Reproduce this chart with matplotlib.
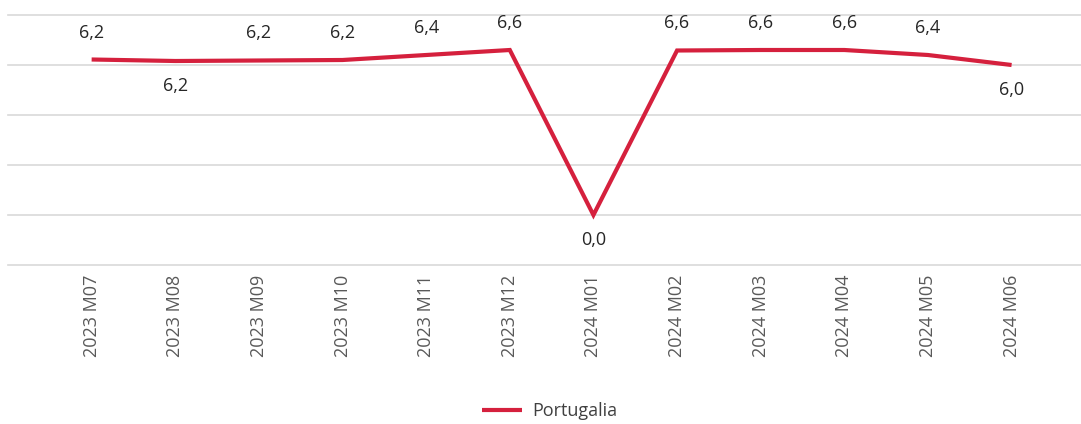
import matplotlib.pyplot as plt

plt.switch_backend('AGG')
plt.rcParams['font.family'] = ['Open Sans', 'DejaVu Sans']

# dane
months = ['2023 M07', '2023 M08', '2023 M09', '2023 M10', '2023 M11', '2023 M12',
          '2024 M01', '2024 M02', '2024 M03', '2024 M04', '2024 M05', '2024 M06']
values = [6.22, 6.16, 6.18, 6.2, 6.4, 6.6, 0.0, 6.58, 6.6, 6.6, 6.4, 6.0]
label_below = [False, True, False, False, False, False, True, False, False, False, False, True]
series_name = 'Portugalia'

LINE_COLOR = '#d5203d'
GRID_COLOR = '#d9d9d9'
FS = 13

fig = plt.figure(figsize=(10.81, 4.24), dpi=100)
ax = fig.add_axes([8 / 1081, 1 - 265 / 424, 1 - 8 / 1081, 250 / 424])

x = list(range(len(months)))
ax.plot(x, values, color=LINE_COLOR, linewidth=3, solid_capstyle='butt',
        solid_joinstyle='miter', label=series_name, zorder=3)

ax.set_ylim(-2, 8)
ax.set_xlim(-1.0, 11.83)
ax.set_yticks([-2, 0, 2, 4, 6, 8])
ax.yaxis.grid(True, color=GRID_COLOR, linewidth=1.2)
for gl in ax.get_ygridlines():
    gl.set_clip_on(False)
ax.set_axisbelow(True)
ax.tick_params(axis='y', left=False, labelleft=False)
ax.tick_params(axis='x', length=0, pad=7, labelsize=FS, labelcolor='#595959')
ax.set_xticks(x)
ax.set_xticklabels(months, rotation=90)
for s in ax.spines.values():
    s.set_visible(False)

# etykiety danych
for xi, v, below in zip(x, values, label_below):
    txt = f'{v:.1f}'.replace('.', ',')
    off = -25 if below else 27
    ax.annotate(txt, (xi, v), xytext=(0, off), textcoords='offset pixels',
                ha='center', va='center', fontsize=FS, color='#262626')

fig.legend(loc='center', bbox_to_anchor=(550 / 1081, 1 - 411 / 424), frameon=False,
           fontsize=FS, handlelength=2.2, handletextpad=0.6, labelcolor='#404040')

fig.savefig('out.png', dpi=100)
